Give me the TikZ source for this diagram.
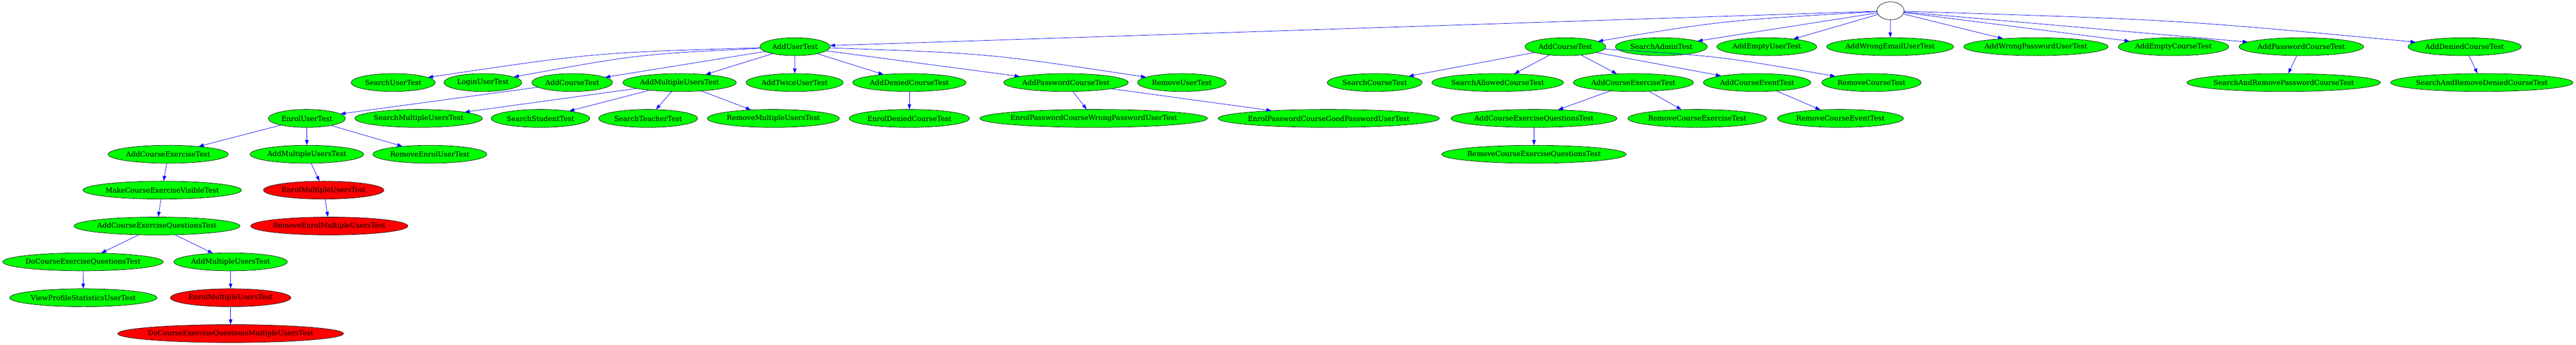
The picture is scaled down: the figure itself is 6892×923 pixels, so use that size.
\documentclass[tikz,border=0pt]{standalone}
\usepackage{fontspec}
\setmainfont{DejaVu Serif}
\usetikzlibrary{shapes.geometric}
\usetikzlibrary{arrows.meta}
\definecolor{passgreen}{RGB}{0,255,0}
\definecolor{failred}{RGB}{255,0,0}

\begin{document}
\begin{tikzpicture}[x=0.75pt, y=-0.75pt, >={Triangle[length=10pt,width=7pt]},
  pass/.style={ellipse, draw=black, line width=0.75pt, fill=passgreen, inner xsep=-200pt, minimum height=36pt, minimum width={1.3*width("#1")+22pt}, node contents={#1}},
  fail/.style={pass=#1, fill=failred},
  dep/.style={->, blue, line width=0.8pt}]
\fontsize{14}{16}\selectfont
\useasboundingbox (0,0) rectangle (6892,923);
\node[ellipse, draw, line width=0.75pt, fill=white, minimum width=54pt, minimum height=36pt] (root) at (5058,29) {};
\foreach \n/\x in {AddUserTest/2127, AddCourseTest/4188, SearchAdminTest/4445, AddEmptyUserTest/4727, AddWrongEmailUserTest/5057, AddWrongPasswordUserTest/5447, AddEmptyCourseTest/5815, AddPasswordCourseTest/6157, AddDeniedCourseTest/6594}
  \node (\n) at (\x,125) [pass=\n];
\foreach \n/\x in {SearchUserTest/1052, LoginUserTest/1292, AddMultipleUsersTest/1818, AddTwiceUserTest/2126, RemoveUserTest/3162, SearchCourseTest/3678, SearchAllowedCourseTest/4007, AddCourseExerciseTest/4370, AddCourseEventTest/4701, RemoveCourseTest/5007, SearchAndRemovePasswordCourseTest/6110, SearchAndRemoveDeniedCourseTest/6640}
  \node (\n) at (\x,221) [pass=\n];
\node (AddCourseTestB) at (1531,221) [pass=AddCourseTest];
\node (AddDeniedCourseTestB) at (2433,221) [pass=AddDeniedCourseTest];
\node (AddPasswordCourseTestB) at (2852,221) [pass=AddPasswordCourseTest];
\foreach \n/\x in {EnrolUserTest/821, SearchMultipleUsersTest/1120, SearchStudentTest/1446, SearchTeacherTest/1734, RemoveMultipleUsersTest/2069, EnrolDeniedCourseTest/2433, EnrolPasswordCourseWrongPasswordUserTest/2926, EnrolPasswordCourseGoodPasswordUserTest/3555, AddCourseExerciseQuestionsTest/4104, RemoveCourseExerciseTest/4541, RemoveCourseEventTest/4924}
  \node (\n) at (\x,317) [pass=\n];
\node (AddCourseExerciseTestB) at (450,413) [pass=AddCourseExerciseTest];
\node (AddMultipleUsersTestB) at (821,413) [pass=AddMultipleUsersTest];
\node (RemoveEnrolUserTest) at (1150,413) [pass=RemoveEnrolUserTest];
\node (RemoveCourseExerciseQuestionsTest) at (4104,413) [pass=RemoveCourseExerciseQuestionsTest];
\node (MakeCourseExerciseVisibleTest) at (434,509) [pass=MakeCourseExerciseVisibleTest];
\node (EnrolMultipleUsersTest) at (866,509) [fail=EnrolMultipleUsersTest];
\node (AddCourseExerciseQuestionsTestB) at (420,605) [pass=AddCourseExerciseQuestionsTest];
\node (RemoveEnrolMultipleUsersTest) at (881,605) [fail=RemoveEnrolMultipleUsersTest];
\node (DoCourseExerciseQuestionsTest) at (222,701) [pass=DoCourseExerciseQuestionsTest];
\node (AddMultipleUsersTestC) at (617,701) [pass=AddMultipleUsersTest];
\node (ViewProfileStatisticsUserTest) at (223,797) [pass=ViewProfileStatisticsUserTest];
\node (EnrolMultipleUsersTestB) at (617,797) [fail=EnrolMultipleUsersTest];
\node (DoCourseExerciseQuestionsMultipleUsersTest) at (617,893) [fail=DoCourseExerciseQuestionsMultipleUsersTest];
\foreach \a/\b in {root/AddUserTest, root/SearchAdminTest, root/AddEmptyUserTest, root/AddWrongEmailUserTest, root/AddWrongPasswordUserTest, root/AddEmptyCourseTest, root/AddPasswordCourseTest,
  AddUserTest/AddCourseTestB, AddUserTest/AddMultipleUsersTest, AddUserTest/AddTwiceUserTest, AddUserTest/AddDeniedCourseTestB, AddUserTest/AddPasswordCourseTestB,
  AddCourseTest/SearchCourseTest, AddCourseTest/SearchAllowedCourseTest, AddCourseTest/AddCourseExerciseTest, AddCourseTest/AddCourseEventTest,
  AddPasswordCourseTest/SearchAndRemovePasswordCourseTest, AddDeniedCourseTest/SearchAndRemoveDeniedCourseTest,
  AddCourseTestB/EnrolUserTest, AddMultipleUsersTest/SearchMultipleUsersTest, AddMultipleUsersTest/SearchStudentTest, AddMultipleUsersTest/SearchTeacherTest, AddMultipleUsersTest/RemoveMultipleUsersTest,
  AddDeniedCourseTestB/EnrolDeniedCourseTest, AddPasswordCourseTestB/EnrolPasswordCourseWrongPasswordUserTest, AddPasswordCourseTestB/EnrolPasswordCourseGoodPasswordUserTest,
  AddCourseExerciseTest/AddCourseExerciseQuestionsTest, AddCourseExerciseTest/RemoveCourseExerciseTest, AddCourseEventTest/RemoveCourseEventTest,
  EnrolUserTest/AddCourseExerciseTestB, EnrolUserTest/AddMultipleUsersTestB, EnrolUserTest/RemoveEnrolUserTest, AddCourseExerciseQuestionsTest/RemoveCourseExerciseQuestionsTest,
  AddCourseExerciseTestB/MakeCourseExerciseVisibleTest, AddMultipleUsersTestB/EnrolMultipleUsersTest,
  MakeCourseExerciseVisibleTest/AddCourseExerciseQuestionsTestB, EnrolMultipleUsersTest/RemoveEnrolMultipleUsersTest,
  AddCourseExerciseQuestionsTestB/DoCourseExerciseQuestionsTest, AddCourseExerciseQuestionsTestB/AddMultipleUsersTestC,
  DoCourseExerciseQuestionsTest/ViewProfileStatisticsUserTest, AddMultipleUsersTestC/EnrolMultipleUsersTestB,
  EnrolMultipleUsersTestB/DoCourseExerciseQuestionsMultipleUsersTest}
  \draw[dep] (\a) -- (\b);
\draw[dep] (root) .. controls (4610,55) .. (AddCourseTest);
\draw[dep] (root) .. controls (5826,53) .. (AddDeniedCourseTest);
\draw[dep] (AddUserTest) .. controls (1590,141) .. (SearchUserTest);
\draw[dep] (AddUserTest) .. controls (1710,145) .. (LoginUserTest);
\draw[dep] (AddUserTest) .. controls (2645,143) .. (RemoveUserTest);
\draw[dep] (AddCourseTest) .. controls (4598,150) .. (RemoveCourseTest);
\end{tikzpicture}
\end{document}
